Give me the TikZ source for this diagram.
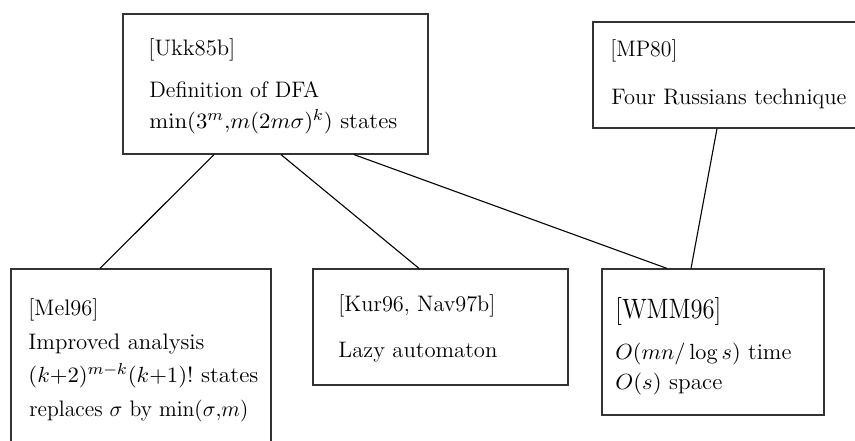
\documentclass[tikz,border=0pt]{standalone}
\usepackage{amsmath}
\usepackage{graphicx}
% stretch a line horizontally to a given width, keeping its height
\newcommand\fitline[2]{\resizebox{#1}{\height}{#2}}
\begin{document}
\begin{tikzpicture}[x=0.5pt,y=-0.5pt,
  refbox/.style={draw=black!80,line width=0.6pt,rectangle,inner sep=0pt},
  txt/.style={anchor=base west,inner sep=0pt,font=\fontsize{11.2}{14}\selectfont},
  bigtxt/.style={txt,font=\fontsize{14}{17}\selectfont},
  link/.style={draw=black,line width=0.55pt}]
\useasboundingbox (0,0) rectangle (855,440);
\clip (0,0) rectangle (855,440);

% boxes
\node[refbox,minimum width=152.5pt,minimum height=70pt] (ukk) at (275.5,84) {};
\node[refbox,minimum width=138.5pt,minimum height=53pt] (mp) at (731.5,75) {};
\node[refbox,minimum width=130pt,minimum height=95.5pt] (mel) at (141,364.5) {};
\node[refbox,minimum width=127.5pt,minimum height=58pt] (kur) at (440.5,327) {};
\node[refbox,minimum width=111pt,minimum height=73pt] (wmm) at (713,342) {};

% texts
\node[txt] (ukk1) at (148,55) {\fitline{43.5pt}{[Ukk85b]}};
\node[txt] (ukk2) at (149,97) {\fitline{85pt}{Definition of DFA}};
\node[txt] (ukk3) at (149,128) {\fitline{124pt}{$\min(3^m{,}m(2m\sigma)^k)$ states}};

\node[txt] (mp1) at (610,56) {\fitline{33.5pt}{[MP80]}};
\node[txt] (mp2) at (611,104) {\fitline{117.5pt}{Four Russians technique}};

\node[txt] (mel1) at (28,315) {\fitline{35pt}{[Mel96]}};
\node[txt] (mel2) at (28,349) {\fitline{88pt}{Improved analysis}};
\node[txt] (mel3) at (28,382) {\fitline{115pt}{$(k{+}2)^{m-k}(k{+}1)!$ states}};
\node[txt] (mel4) at (29,416) {\fitline{109.5pt}{replaces $\sigma$ by $\min(\sigma{,}m)$}};

\node[txt] (kur1) at (338,311) {\fitline{78.5pt}{[Kur96, Nav97b]}};
\node[txt] (kur2) at (338,357) {\fitline{79.5pt}{Lazy automaton}};

\node[bigtxt] (wmm1) at (615,318) {\fitline{53pt}{[WMM96]}};
\node[txt] (wmm2) at (615,359) {\fitline{88pt}{$O(mn/\log s)$ time}};
\node[txt] (wmm3) at (615,389) {\fitline{53.5pt}{$O(s)$ space}};

% connectors
\draw[link] ([xshift=-30.75pt]ukk.south) -- ([xshift=-20.5pt]mel.north);
\draw[link] ([xshift=2.75pt]ukk.south) -- ([xshift=-10.75pt]kur.north);
\draw[link] ([xshift=39.25pt]ukk.south) -- ([xshift=-23pt]wmm.north);
\draw[link] ([xshift=-7.25pt]mp.south) -- ([xshift=-11pt]wmm.north);
\end{tikzpicture}
\end{document}
